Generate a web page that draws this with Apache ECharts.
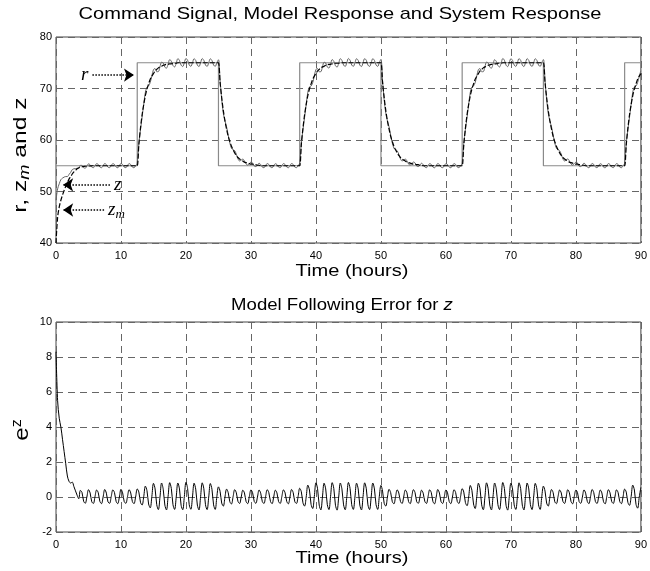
<!DOCTYPE html>
<html>
<head>
<meta charset="utf-8">
<script src="https://cdn.jsdelivr.net/npm/echarts@6/dist/echarts.min.js"></script>
<style>
  html, body { margin: 0; padding: 0; background: #fff; }
  #chart { width: 650px; height: 571px; }
</style>
</head>
<body>
<div id="chart"></div>
<script>
// Sampling interval of the response traces (hours)
const STEP_HOURS = 0.25;

// Command signal r: level switches (hours) and levels
const commandTimes  = [0, 12.5, 25, 37.5, 50, 62.5, 75, 87.5, 90];
const commandLevels = [55, 75, 55, 75, 55, 75, 55, 75, 75];

// Model response z_m, one sample every STEP_HOURS from t = 0 to t = 90
const modelResponse = [
  40, 45.0, 47.0, 48.3, 49.3, 50.2, 51.0, 51.7, 52.4, 52.9,
  53.4, 53.8, 54.1, 54.4, 54.6, 54.7, 54.8, 54.85, 54.9, 54.9,
  54.95, 54.95, 55,
  55, 55, 55, 55, 55, 55, 55, 55, 55, 55, 55, 55, 55, 55,
  55, 55, 55, 55, 55, 55, 55, 55, 55, 55, 55, 55, 55, 55,
  59.1, 62.3, 64.9, 66.9, 68.6, 69.9, 70.9, 71.8, 72.4, 72.9, 73.4, 73.7,
  74.0, 74.2, 74.3, 74.5, 74.6, 74.7, 74.7, 74.8, 74.8, 74.9, 74.9, 74.9,
  75, 75, 75, 75, 75, 75, 75, 75, 75, 75, 75, 75, 75,
  75, 75, 75, 75, 75, 75, 75, 75, 75, 75, 75, 75, 75,
  71.2, 68.2, 65.7, 63.7, 62.1, 60.7, 59.7, 58.8, 58.1, 57.5, 57.0, 56.6, 56.3,
  56.1, 55.9, 55.7, 55.6, 55.5, 55.4, 55.3, 55.3, 55.2, 55.2, 55.1, 55.1,
  55, 55, 55, 55, 55, 55, 55, 55, 55, 55, 55, 55, 55,
  55, 55, 55, 55, 55, 55, 55, 55, 55, 55, 55, 55,
  59.1, 62.3, 64.9, 66.9, 68.6, 69.9, 70.9, 71.8, 72.4, 72.9, 73.4, 73.7,
  74.0, 74.2, 74.3, 74.5, 74.6, 74.7, 74.7, 74.8, 74.8, 74.9, 74.9, 74.9,
  75, 75, 75, 75, 75, 75, 75, 75, 75, 75, 75, 75, 75,
  75, 75, 75, 75, 75, 75, 75, 75, 75, 75, 75, 75, 75,
  71.2, 68.2, 65.7, 63.7, 62.1, 60.7, 59.7, 58.8, 58.1, 57.5, 57.0, 56.6, 56.3,
  56.1, 55.9, 55.7, 55.6, 55.5, 55.4, 55.3, 55.3, 55.2, 55.2, 55.1, 55.1,
  55, 55, 55, 55, 55, 55, 55, 55, 55, 55, 55, 55, 55,
  55, 55, 55, 55, 55, 55, 55, 55, 55, 55, 55, 55,
  59.1, 62.3, 64.9, 66.9, 68.6, 69.9, 70.9, 71.8, 72.4, 72.9, 73.4, 73.7,
  74.0, 74.2, 74.3, 74.5, 74.6, 74.7, 74.7, 74.8, 74.8, 74.9, 74.9, 74.9,
  75, 75, 75, 75, 75, 75, 75, 75, 75, 75, 75, 75, 75,
  75, 75, 75, 75, 75, 75, 75, 75, 75, 75, 75, 75, 75,
  71.2, 68.2, 65.7, 63.7, 62.1, 60.7, 59.7, 58.8, 58.1, 57.5, 57.0, 56.6, 56.3,
  56.1, 55.9, 55.7, 55.6, 55.5, 55.4, 55.3, 55.3, 55.2, 55.2, 55.1, 55.1,
  55, 55, 55, 55, 55, 55, 55, 55, 55, 55, 55, 55, 55,
  55, 55, 55, 55, 55, 55, 55, 55, 55, 55, 55, 55,
  59.1, 62.3, 64.9, 66.9, 68.6, 69.9, 70.9, 71.8, 72.4, 72.9
];

// Model following error e^z = z - z_m, same sampling as z_m
const followingError = [
  8.3, 5.5, 4.5, 4.0, 3.3, 2.6, 1.9, 1.2, 0.9, 0.8, 0.85, 0.6, 0.35, 0.1,
  -0.1, 0.38, 0.26, -0.24, -0.36,
  0.0, 0.42, 0.23, -0.27, -0.37,
  0.02, 0.4, 0.25, -0.25, -0.38,
  0.0, 0.43, 0.22, -0.28, -0.36,
  0.03, 0.41, 0.25, -0.25, -0.38,
  0.0, 0.44, 0.24, -0.27, -0.36,
  0.02, 0.42, 0.23, -0.26, -0.38,
  0.0, 0.46, 0.28, -0.3, -0.46,
  0.02, 0.62, 0.36, -0.4, -0.62,
  0.03, 0.78, 0.46, -0.44, -0.72,
  0.0, 0.8, 0.44, -0.46, -0.74,
  0.04, 0.82, 0.48, -0.44, -0.71,
  0.0, 0.8, 0.46, -0.47, -0.73,
  0.03, 0.84, 0.49, -0.44, -0.7,
  0.0, 0.79, 0.45, -0.46, -0.74,
  0.02, 0.81, 0.47, -0.44, -0.72,
  0.0, 0.77, 0.44, -0.45, -0.71,
  0.02, 0.58, 0.32, -0.35, -0.52,
  0.0, 0.45, 0.25, -0.27, -0.4,
  0.02, 0.42, 0.24, -0.25, -0.37,
  0.0, 0.39, 0.23, -0.26, -0.38,
  0.03, 0.41, 0.25, -0.25, -0.36,
  0.0, 0.4, 0.22, -0.27, -0.37,
  0.02, 0.42, 0.25, -0.25, -0.38,
  0.0, 0.39, 0.23, -0.26, -0.37,
  0.02, 0.41, 0.24, -0.25, -0.39,
  0.0, 0.43, 0.25, -0.27, -0.37,
  0.02, 0.5, 0.3, -0.33, -0.52,
  0.0, 0.68, 0.4, -0.42, -0.66,
  0.03, 0.81, 0.47, -0.46, -0.74,
  0.0, 0.79, 0.46, -0.44, -0.72,
  0.04, 0.82, 0.48, -0.47, -0.75,
  0.0, 0.8, 0.45, -0.45, -0.73,
  0.02, 0.83, 0.49, -0.44, -0.71,
  0.0, 0.79, 0.46, -0.46, -0.74,
  0.03, 0.81, 0.47, -0.45, -0.72,
  0.0, 0.8, 0.46, -0.44, -0.71,
  0.03, 0.66, 0.34, -0.36, -0.52,
  0.0, 0.44, 0.25, -0.27, -0.39,
  0.02, 0.41, 0.23, -0.25, -0.37,
  0.0, 0.4, 0.24, -0.26, -0.38,
  0.03, 0.42, 0.25, -0.27, -0.36,
  0.0, 0.39, 0.22, -0.25, -0.37,
  0.02, 0.41, 0.25, -0.26, -0.39,
  0.0, 0.43, 0.23, -0.27, -0.37,
  0.02, 0.4, 0.24, -0.25, -0.38,
  0.0, 0.42, 0.25, -0.26, -0.37,
  0.02, 0.48, 0.28, -0.32, -0.5,
  0.0, 0.66, 0.38, -0.4, -0.66,
  0.03, 0.79, 0.46, -0.45, -0.73,
  0.0, 0.81, 0.47, -0.46, -0.74,
  0.04, 0.8, 0.45, -0.44, -0.72,
  0.0, 0.83, 0.49, -0.47, -0.75,
  0.02, 0.79, 0.46, -0.45, -0.71,
  0.0, 0.81, 0.48, -0.46, -0.74,
  0.03, 0.8, 0.46, -0.44, -0.72,
  0.0, 0.78, 0.45, -0.45, -0.71,
  0.02, 0.62, 0.34, -0.35, -0.52,
  0.0, 0.43, 0.25, -0.27, -0.38,
  0.02, 0.4, 0.23, -0.25, -0.37,
  0.0, 0.42, 0.24, -0.26, -0.39,
  0.03, 0.39, 0.25, -0.27, -0.36,
  0.0, 0.41, 0.22, -0.25, -0.38,
  0.02, 0.43, 0.25, -0.26, -0.37,
  0.0, 0.4, 0.23, -0.27, -0.39,
  0.02, 0.42, 0.24, -0.25, -0.37,
  0.0, 0.41, 0.25, -0.26, -0.38,
  0.0, 0.45, 0.28, -0.31, -0.48,
  0.02, 0.68, 0.4, -0.42, -0.64,
  0.0, 0.55
];

// Axis ranges and tick spacing
const timeAxis  = { min: 0, max: 90, interval: 10 };
const levelAxis = { min: 40, max: 80, interval: 10 };
const errorAxis = { min: -2, max: 10, interval: 2 };

// ---- series built from the arrays above ----
const n = Math.min(modelResponse.length, followingError.length);
const hours = [];
for (let i = 0; i < n; i++) hours.push(i * STEP_HOURS);

const commandData = commandTimes.map((t, i) => [t, commandLevels[i]]);
const modelData   = hours.map((t, i) => [t, modelResponse[i]]);
const systemData  = hours.map((t, i) => [t, +(modelResponse[i] + followingError[i]).toFixed(3)]);
const errorData   = hours.map((t, i) => [t, followingError[i]]);

const FONT = '"Liberation Sans", Arial, Helvetica, sans-serif';
const SERIF = '"Liberation Serif", "DejaVu Serif", serif';

const gridLine = { show: true, lineStyle: { color: '#666', type: [7, 5], width: 1 } };
const tickLabel = { color: '#000', fontSize: 11, fontFamily: FONT };

function xAxisFor(gridIndex) {
  return {
    type: 'value', gridIndex, ...timeAxis,
    axisLine: { show: false }, axisTick: { show: false },
    axisLabel: { ...tickLabel, margin: 7 },
    splitLine: gridLine
  };
}
function yAxisFor(gridIndex, range) {
  return {
    type: 'value', gridIndex, ...range,
    axisLine: { show: false }, axisTick: { show: false },
    axisLabel: { ...tickLabel, margin: 4 },
    splitLine: gridLine
  };
}

const arrowLabel = (txt) => ({
  show: true, position: 'start', distance: 4,
  formatter: txt,
  color: '#000', fontFamily: SERIF, fontStyle: 'italic', fontSize: 19,
  rich: { s: { fontFamily: SERIF, fontStyle: 'italic', fontSize: 13, verticalAlign: 'bottom', padding: [10, 0, 0, 0] } }
});

// Text block helper: the lettering is drawn slightly wide
function label(text, x, y, size, stretch, extra) {
  return Object.assign({
    type: 'text', x, y, scaleX: stretch, silent: true,
    style: {
      text, fill: '#000', font: size + 'px ' + FONT,
      align: 'center', verticalAlign: 'middle'
    }
  }, extra || {});
}

const titleTop    = label('Command Signal, Model Response and System Response', 340, 14, 17, 1.18);
const titleBottom = label('Model Following Error for {i|z}', 342, 306, 16, 1.16);
titleBottom.style.rich = { i: { fontStyle: 'italic', fontSize: 16, fontFamily: FONT, fill: '#000' } };
const xNameTop    = label('Time (hours)', 352, 271, 17, 1.18);
const xNameBottom = label('Time (hours)', 352, 558, 17, 1.18);
const yNameTop    = label('r, z{s|m} and z', 21, 155, 19, 1.3, { rotation: Math.PI / 2 });
yNameTop.style.rich = { s: { fontSize: 14, fontStyle: 'italic', fontFamily: FONT, fill: '#000', verticalAlign: 'bottom', padding: [9, 0, 0, 0] } };
const yNameBottom = label('e{p|z}', 22, 430, 21, 1.15, { rotation: Math.PI / 2 });
yNameBottom.style.rich = { p: { fontSize: 14, fontFamily: FONT, fill: '#000', verticalAlign: 'top', padding: [0, 0, 10, 0] } };

const option = {
  backgroundColor: '#fff',
  animation: false,
  grid: [
    { left: 56, right: 8, top: 37, height: 206, show: true, borderColor: '#444', borderWidth: 1 },
    { left: 56, right: 8, top: 322, height: 210, show: true, borderColor: '#444', borderWidth: 1 }
  ],
  xAxis: [ xAxisFor(0), xAxisFor(1) ],
  yAxis: [ yAxisFor(0, levelAxis), yAxisFor(1, errorAxis) ],
  graphic: [ titleTop, titleBottom, xNameTop, xNameBottom, yNameTop, yNameBottom ],
  series: [
    { name: 'r', type: 'line', xAxisIndex: 0, yAxisIndex: 0, data: commandData, step: 'end',
      showSymbol: false, silent: true, lineStyle: { color: '#8a8a8a', width: 1.2 }, z: 2 },
    { name: 'z', type: 'line', xAxisIndex: 0, yAxisIndex: 0, data: systemData, smooth: 0.35,
      showSymbol: false, silent: true, lineStyle: { color: '#666', width: 1 }, z: 3 },
    { name: 'z_m', type: 'line', xAxisIndex: 0, yAxisIndex: 0, data: modelData, smooth: 0.3,
      showSymbol: false, silent: true, lineStyle: { color: '#000', width: 1.2, type: [5, 2] }, z: 4,
      markLine: {
        silent: true, symbol: ['none', 'arrow'], symbolSize: 10,
        lineStyle: { color: '#000', type: 'dotted', width: 1.5 },
        data: [
          [ { coord: [5.6, 72.6], label: arrowLabel('r') }, { coord: [12.0, 72.6] } ],
          [ { coord: [8.3, 51.3], label: arrowLabel('z') }, { coord: [1.1, 51.3] } ],
          [ { coord: [7.4, 46.4], label: arrowLabel('z{s|m}') }, { coord: [1.1, 46.4] } ]
        ]
      } },
    { name: 'e', type: 'line', xAxisIndex: 1, yAxisIndex: 1, data: errorData, smooth: 0.35,
      showSymbol: false, silent: true, lineStyle: { color: '#000', width: 1 }, z: 3 }
  ]
};

const chart = echarts.init(document.getElementById('chart'), null, { renderer: 'canvas' });
chart.setOption(option);
</script>
</body>
</html>
